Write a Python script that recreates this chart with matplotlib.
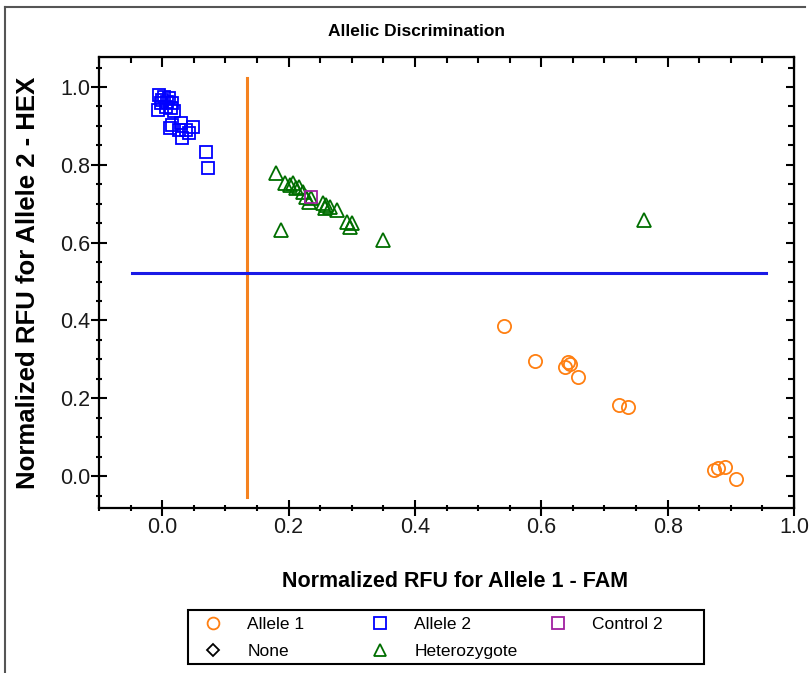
import numpy as np
import matplotlib
matplotlib.use("Agg")
import matplotlib.pyplot as plt
from matplotlib.lines import Line2D
from matplotlib.patches import Rectangle
from matplotlib.ticker import MultipleLocator

plt.rcParams['font.family'] = ['Liberation Sans', 'DejaVu Sans']

# normalized RFU (FAM, HEX) per call group
allele1_x = [0.541, 0.590, 0.642, 0.638, 0.645, 0.658, 0.723, 0.738, 0.874, 0.880, 0.890, 0.908]
allele1_y = [0.386, 0.296, 0.294, 0.281, 0.288, 0.254, 0.183, 0.178, 0.015, 0.020, 0.024, -0.008]

allele2_x = [-0.005, 0.003, 0.011, 0.016, -0.002, 0.006, 0.014, 0.019, -0.007, 0.000, 0.008,
             0.016, 0.012, 0.030, 0.038, 0.048, 0.032, 0.043, 0.027, 0.069, 0.072]
allele2_y = [0.979, 0.975, 0.971, 0.958, 0.958, 0.949, 0.945, 0.937, 0.941, 0.966, 0.962,
             0.902, 0.895, 0.907, 0.889, 0.898, 0.868, 0.881, 0.889, 0.834, 0.791]

het_x = [0.180, 0.194, 0.202, 0.207, 0.212, 0.217, 0.223, 0.228, 0.236, 0.233, 0.254,
         0.260, 0.257, 0.265, 0.276, 0.292, 0.300, 0.297, 0.188, 0.350, 0.762]
het_y = [0.778, 0.752, 0.748, 0.752, 0.740, 0.744, 0.731, 0.718, 0.714, 0.705, 0.701,
         0.697, 0.688, 0.692, 0.684, 0.654, 0.650, 0.641, 0.632, 0.607, 0.658]

ctrl2_x = [0.236]
ctrl2_y = [0.718]

# call thresholds
fam_cut = 0.135
fam_cut_span = (-0.054, 1.023)
hex_cut = 0.522
hex_cut_span = (-0.048, 0.956)

orange = '#FF7F11'
blue = '#0000FF'
green = '#006E00'
purple = '#A020A0'

fig = plt.figure(figsize=(8.09, 6.73), dpi=100)
ax = fig.add_axes([99/809, 1-508/673, 695/809, 451/673])

ax.plot([fam_cut, fam_cut], fam_cut_span, color='#F5821F', lw=2.2, zorder=1)
ax.plot(hex_cut_span, [hex_cut, hex_cut], color='#1A1AE6', lw=2.2, zorder=1)

mk = dict(linestyle='none', mfc='none', mew=1.3)
ax.plot(allele1_x, allele1_y, marker='o', ms=9.5, mec=orange, **mk)
ax.plot(het_x, het_y, marker='^', ms=10, mec=green, **mk)
ax.plot(ctrl2_x, ctrl2_y, marker='s', ms=9, mec=purple, **mk)
ax.plot(allele2_x, allele2_y, marker='s', ms=9, mec=blue, **mk)

ax.set_xlim(-0.1, 1.0)
ax.set_ylim(-0.082, 1.077)
ax.xaxis.set_major_locator(MultipleLocator(0.2))
ax.xaxis.set_minor_locator(MultipleLocator(0.05))
ax.yaxis.set_major_locator(MultipleLocator(0.2))
ax.yaxis.set_minor_locator(MultipleLocator(0.05))
ax.xaxis.set_major_formatter(matplotlib.ticker.FormatStrFormatter('%.1f'))
ax.yaxis.set_major_formatter(matplotlib.ticker.FormatStrFormatter('%.1f'))
for s in ax.spines.values():
    s.set_linewidth(1.6)
ax.tick_params(which='major', direction='inout', length=11, width=1.5,
               labelsize=15.5, pad=1, labelcolor='#1a1a1a')
ax.tick_params(which='minor', direction='inout', length=5, width=1.5)

# inward ticks on top and right
top = ax.secondary_xaxis('top')
top.xaxis.set_major_locator(MultipleLocator(0.2))
top.xaxis.set_minor_locator(MultipleLocator(0.05))
top.tick_params(which='major', direction='in', length=7, width=1.5, labeltop=False)
top.tick_params(which='minor', direction='in', length=4.5, width=1.5)
right = ax.secondary_yaxis('right')
right.yaxis.set_major_locator(MultipleLocator(0.2))
right.yaxis.set_minor_locator(MultipleLocator(0.05))
right.tick_params(which='major', direction='in', length=6, width=1.5, labelright=False)
right.tick_params(which='minor', direction='in', length=4, width=1.5)

ax.set_xlabel('Normalized RFU for Allele 1 - FAM', fontsize=15.5, fontweight='bold')
ax.xaxis.set_label_coords(0.512, -0.14)
ax.set_ylabel('Normalized RFU for Allele 2 - HEX', fontsize=18.5, fontweight='bold')
ax.yaxis.set_label_coords(-0.085, 0.5)

fig.text(416/809, 1-31/673, 'Allelic Discrimination', ha='center', va='center',
         fontsize=12.5, fontweight='bold')

# legend: three frameless columns inside one box
lk = dict(linestyle='none', mfc='none', mew=1.3, ms=8.5)
h_a1 = Line2D([], [], marker='o', color=orange, **lk)
h_none = Line2D([], [], marker='D', color='black', linestyle='none', mfc='none', mew=1.3, ms=6)
h_a2 = Line2D([], [], marker='s', color=blue, **lk)
h_het = Line2D([], [], marker='^', color=green, **lk)
h_c2 = Line2D([], [], marker='s', color=purple, **lk)
cols = [([h_a1, h_none], ['Allele 1', 'None'], 204),
        ([h_a2, h_het], ['Allele 2', 'Heterozygote'], 371),
        ([h_c2], ['Control 2'], 549)]
for handles, labels, x0 in cols:
    leg = fig.legend(handles, labels, loc='upper left', bbox_to_anchor=(x0/809, 1-617/673),
                     frameon=False, fontsize=12.5, borderpad=0, borderaxespad=0,
                     handlelength=1.0, handletextpad=1.5, labelspacing=0.65)
fig.patches.append(Rectangle((188/809, 1-664/673), 516/809, 54/673, transform=fig.transFigure,
                             fill=False, ec='black', lw=1.5))

# panel border
fig.add_artist(Line2D([5/809, 5/809], [0, 1-7/673], color='#555555', lw=1.5))
fig.add_artist(Line2D([5/809, 805/809], [1-7/673, 1-7/673], color='#555555', lw=1.5))

fig.savefig('out.png', dpi=100)
